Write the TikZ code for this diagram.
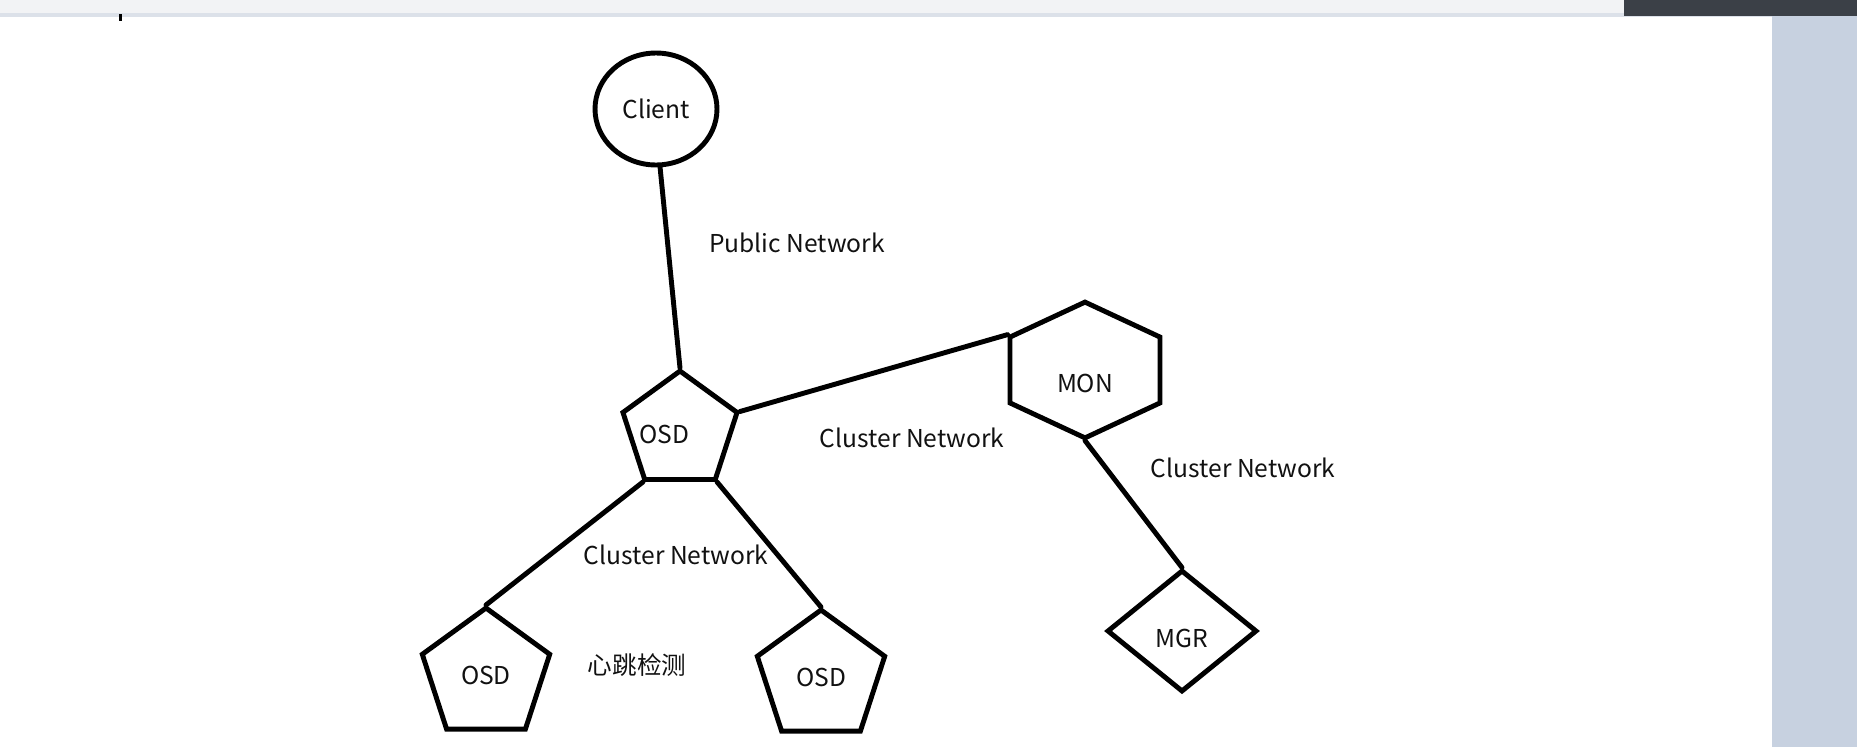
\documentclass[tikz,border=0pt]{standalone}
\usepackage{fontspec}
\setmainfont{Noto Sans CJK SC}
\usepackage{tikz}
\usetikzlibrary{shapes.geometric, shapes.symbols}
\definecolor{colorBar}{HTML}{F2F3F5}
\definecolor{colorBarEdge}{HTML}{DCE1E9}
\definecolor{colorTitle}{HTML}{3B4047}
\definecolor{colorSide}{HTML}{C7D1E0}
\definecolor{colorInk}{HTML}{111111}
\tikzset{
  shapeline/.style={draw=black, line width=2.8pt, fill=white, font=\fontsize{14}{16}\selectfont, text=colorInk, inner sep=0pt},
  osdbox/.style={shapeline, regular polygon, regular polygon sides=5},
  netlabel/.style={font=\fontsize{14}{16}\selectfont, text=colorInk, inner sep=0pt},
  link/.style={draw=black, line width=2.8pt, line cap=round}
}

\begin{document}
\begin{tikzpicture}[x=0.02cm, y=-0.02cm]
% window round the canvas
\useasboundingbox (0,0) rectangle (1857,747);
\fill[white] (0,0) rectangle (1857,747);
\fill[colorBar] (0,0) rectangle (1624,13);
\fill[colorBarEdge] (0,13) rectangle (1772,17);
\fill[colorTitle] (1624,0) rectangle (1857,16);
\fill[colorSide] (1772,16) rectangle (1857,747);
\fill[black] (119,14) rectangle (122,21);

% nodes
\node[shapeline, ellipse, minimum width=2.44cm, minimum height=2.24cm] (client) at (656,109) {Client};
\node[osdbox, minimum size=2.4cm, label={[netlabel, xshift=-0.32cm, yshift=-0.06cm]center:OSD}] (osd) at (680,431) {};
\node[osdbox, minimum size=2.68cm] (osdL) at (486,675) {OSD};
\node[osdbox, minimum size=2.68cm] (osdR) at (821,677) {OSD};
\node[shapeline, signal, signal to=north and south, signal pointer angle=130, minimum width=3cm, minimum height=1.84cm, label={[netlabel, yshift=-0.26cm]center:MON}] (mon) at (1085,370) {\phantom{MON}};
\node[shapeline, diamond, minimum width=3cm, minimum height=2.44cm, label={[netlabel, yshift=-0.14cm]center:MGR}] (mgr) at (1182,631) {};

% labels
\node[netlabel] (pub) at (797,243) {Public Network};
\node[netlabel] (clusterMon) at (912,438) {Cluster Network};
\node[netlabel] (clusterMgr) at (1243,468) {Cluster Network};
\node[netlabel] (clusterOsd) at (676,555) {Cluster Network};
\node[netlabel] (beat) at (637,665) {心跳检测};

% links
\draw[link] (client.-86) -- (osd.corner 1);
\draw[link] (osd.corner 5) -- (mon.north west);
\draw[link] (osd.corner 3) -- (osdL.corner 1);
\draw[link] (osd.corner 4) -- (osdR.corner 1);
\draw[link] (mon.south) -- (mgr.north);
\end{tikzpicture}
\end{document}
